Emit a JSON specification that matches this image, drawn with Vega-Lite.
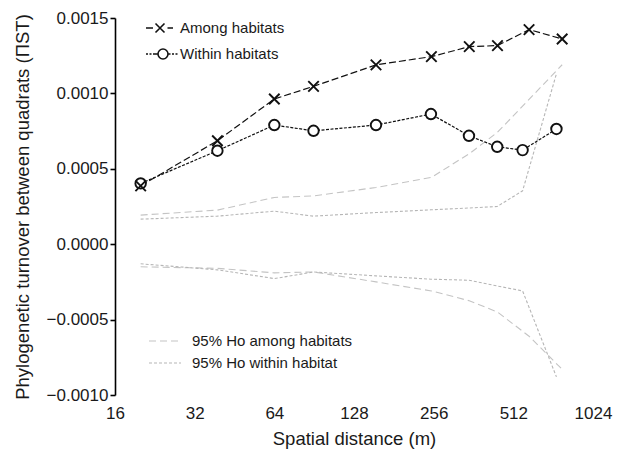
{
  "$schema": "https://vega.github.io/schema/vega-lite/v6.json",
  "width": 478,
  "height": 377,
  "autosize": "none",
  "padding": {"left": 115, "top": 18, "right": 29, "bottom": 58},
  "config": {
    "font": "Liberation Sans",
    "view": {"stroke": null},
    "axis": {"labelColor": "#1a1a1a", "titleColor": "#1a1a1a", "grid": false}
  },
  "datasets": {
    "obs": [
      {"series": "Among habitats", "x": 20, "y": 0.000387},
      {"series": "Among habitats", "x": 39, "y": 0.000686},
      {"series": "Among habitats", "x": 64, "y": 0.000963},
      {"series": "Among habitats", "x": 90, "y": 0.001047},
      {"series": "Among habitats", "x": 155, "y": 0.001189},
      {"series": "Among habitats", "x": 251, "y": 0.001244},
      {"series": "Among habitats", "x": 349, "y": 0.00131},
      {"series": "Among habitats", "x": 446, "y": 0.001317},
      {"series": "Among habitats", "x": 587, "y": 0.001423},
      {"series": "Among habitats", "x": 783, "y": 0.001361},
      {"series": "Within habitats", "x": 20, "y": 0.000403},
      {"series": "Within habitats", "x": 39, "y": 0.00062},
      {"series": "Within habitats", "x": 64, "y": 0.00079},
      {"series": "Within habitats", "x": 90, "y": 0.000752},
      {"series": "Within habitats", "x": 155, "y": 0.00079},
      {"series": "Within habitats", "x": 250, "y": 0.000863},
      {"series": "Within habitats", "x": 348, "y": 0.000719},
      {"series": "Within habitats", "x": 445, "y": 0.000646},
      {"series": "Within habitats", "x": 555, "y": 0.000624},
      {"series": "Within habitats", "x": 745, "y": 0.000764}
    ],
    "nullmodel": [
      {"band": "95% Ho among habitats", "bound": "upper", "x": 20, "y": 0.000193},
      {"band": "95% Ho among habitats", "bound": "upper", "x": 39, "y": 0.000226},
      {"band": "95% Ho among habitats", "bound": "upper", "x": 64, "y": 0.00031},
      {"band": "95% Ho among habitats", "bound": "upper", "x": 90, "y": 0.00032},
      {"band": "95% Ho among habitats", "bound": "upper", "x": 155, "y": 0.000376},
      {"band": "95% Ho among habitats", "bound": "upper", "x": 251, "y": 0.000443},
      {"band": "95% Ho among habitats", "bound": "upper", "x": 349, "y": 0.0006},
      {"band": "95% Ho among habitats", "bound": "upper", "x": 446, "y": 0.000742},
      {"band": "95% Ho among habitats", "bound": "upper", "x": 587, "y": 0.00096},
      {"band": "95% Ho among habitats", "bound": "upper", "x": 783, "y": 0.00119},
      {"band": "95% Ho among habitats", "bound": "lower", "x": 20, "y": -0.00015},
      {"band": "95% Ho among habitats", "bound": "lower", "x": 39, "y": -0.00016},
      {"band": "95% Ho among habitats", "bound": "lower", "x": 64, "y": -0.00019},
      {"band": "95% Ho among habitats", "bound": "lower", "x": 90, "y": -0.000184},
      {"band": "95% Ho among habitats", "bound": "lower", "x": 155, "y": -0.00025},
      {"band": "95% Ho among habitats", "bound": "lower", "x": 251, "y": -0.00031},
      {"band": "95% Ho among habitats", "bound": "lower", "x": 349, "y": -0.000375},
      {"band": "95% Ho among habitats", "bound": "lower", "x": 446, "y": -0.00045},
      {"band": "95% Ho among habitats", "bound": "lower", "x": 587, "y": -0.00061},
      {"band": "95% Ho among habitats", "bound": "lower", "x": 783, "y": -0.00083},
      {"band": "95% Ho within habitat", "bound": "upper", "x": 20, "y": 0.000166},
      {"band": "95% Ho within habitat", "bound": "upper", "x": 39, "y": 0.000186},
      {"band": "95% Ho within habitat", "bound": "upper", "x": 64, "y": 0.000219},
      {"band": "95% Ho within habitat", "bound": "upper", "x": 90, "y": 0.000186},
      {"band": "95% Ho within habitat", "bound": "upper", "x": 155, "y": 0.00021},
      {"band": "95% Ho within habitat", "bound": "upper", "x": 250, "y": 0.000228},
      {"band": "95% Ho within habitat", "bound": "upper", "x": 348, "y": 0.00024},
      {"band": "95% Ho within habitat", "bound": "upper", "x": 445, "y": 0.00025},
      {"band": "95% Ho within habitat", "bound": "upper", "x": 555, "y": 0.000354},
      {"band": "95% Ho within habitat", "bound": "upper", "x": 745, "y": 0.00113},
      {"band": "95% Ho within habitat", "bound": "lower", "x": 20, "y": -0.00013},
      {"band": "95% Ho within habitat", "bound": "lower", "x": 39, "y": -0.00017},
      {"band": "95% Ho within habitat", "bound": "lower", "x": 64, "y": -0.000228},
      {"band": "95% Ho within habitat", "bound": "lower", "x": 90, "y": -0.000184},
      {"band": "95% Ho within habitat", "bound": "lower", "x": 155, "y": -0.00021},
      {"band": "95% Ho within habitat", "bound": "lower", "x": 250, "y": -0.000232},
      {"band": "95% Ho within habitat", "bound": "lower", "x": 348, "y": -0.000239},
      {"band": "95% Ho within habitat", "bound": "lower", "x": 445, "y": -0.000277},
      {"band": "95% Ho within habitat", "bound": "lower", "x": 555, "y": -0.00031},
      {"band": "95% Ho within habitat", "bound": "lower", "x": 745, "y": -0.00088}
    ],
    "ticks": [{"x": 32}, {"x": 64}, {"x": 128}, {"x": 256}, {"x": 512}, {"x": 1024}]
  },
  "encoding": {
    "x": {
      "field": "x",
      "type": "quantitative",
      "scale": {"type": "log", "base": 2, "domain": [16, 1024], "nice": false},
      "axis": {
        "title": "Spatial distance (m)",
        "values": [16, 32, 64, 128, 256, 512, 1024],
        "format": "d",
        "domain": false,
        "ticks": false,
        "labelPadding": 10,
        "labelFontSize": 17,
        "labelFlush": false,
        "labelOverlap": false,
        "titleFontSize": 18.5,
        "titleFontWeight": "normal",
        "titlePadding": 8
      }
    },
    "y": {
      "field": "y",
      "type": "quantitative",
      "scale": {"domain": [-0.001, 0.0015], "nice": false, "zero": false},
      "axis": {
        "title": "Phylogenetic turnover between quadrats (ΠST)",
        "values": [-0.001, -0.0005, 0, 0.0005, 0.001, 0.0015],
        "format": ".4f",
        "domainColor": "black",
        "domainWidth": 1.6,
        "tickColor": "black",
        "tickWidth": 1.6,
        "tickSize": 5,
        "labelPadding": 2,
        "labelFontSize": 17,
        "labelFlush": false,
        "titleFontSize": 18.5,
        "titleFontWeight": "normal",
        "titlePadding": 14
      }
    }
  },
  "layer": [
    {
      "data": {"values": [{}]},
      "mark": {"type": "rule", "color": "black", "strokeWidth": 2},
      "encoding": {
        "x": {"datum": 16, "type": "quantitative"},
        "x2": {"datum": 1024},
        "y": {"datum": 0, "type": "quantitative"}
      }
    },
    {
      "data": {"name": "ticks"},
      "mark": {"type": "rule", "color": "black", "strokeWidth": 1.6},
      "encoding": {
        "y": {"datum": 0, "type": "quantitative"},
        "y2": {"datum": -0.000033}
      }
    },
    {
      "data": {"name": "nullmodel"},
      "transform": [{"filter": "datum.band === '95% Ho among habitats'"}],
      "mark": {"type": "line", "strokeDash": [7, 4], "strokeWidth": 1.1},
      "encoding": {
        "detail": {"field": "bound"},
        "color": {
          "field": "band",
          "type": "nominal",
          "scale": {"domain": ["95% Ho among habitats", "95% Ho within habitat"], "range": ["#c4c4c4", "#b6b6b6"]},
          "legend": {
            "title": null,
            "orient": "none",
            "legendX": 39,
            "legendY": 312,
            "padding": 0,
            "symbolType": "M-1.6,0H1.6",
            "symbolSize": 400,
            "symbolStrokeWidth": 1.1,
            "labelOffset": 16,
            "labelLimit": 400,
            "rowPadding": 3,
            "labelFontSize": 15,
            "labelColor": "#1a1a1a",
            "encode": {"symbols": {"update": {"strokeDash": {"signal": "datum.value === '95% Ho among habitats' ? [7,4] : [3,2]"}}}}
          }
        }
      }
    },
    {
      "data": {"name": "nullmodel"},
      "transform": [{"filter": "datum.band === '95% Ho within habitat'"}],
      "mark": {"type": "line", "strokeDash": [3, 2], "strokeWidth": 1.1},
      "encoding": {
        "detail": {"field": "bound"},
        "color": {
          "field": "band",
          "type": "nominal",
          "scale": {"domain": ["95% Ho among habitats", "95% Ho within habitat"], "range": ["#c4c4c4", "#b6b6b6"]},
          "legend": {
            "title": null,
            "orient": "none",
            "legendX": 39,
            "legendY": 312,
            "padding": 0,
            "symbolType": "M-1.6,0H1.6",
            "symbolSize": 400,
            "symbolStrokeWidth": 1.1,
            "labelOffset": 16,
            "labelLimit": 400,
            "rowPadding": 3,
            "labelFontSize": 15,
            "labelColor": "#1a1a1a",
            "encode": {"symbols": {"update": {"strokeDash": {"signal": "datum.value === '95% Ho among habitats' ? [7,4] : [3,2]"}}}}
          }
        }
      }
    },
    {
      "data": {"name": "obs"},
      "transform": [{"filter": "datum.series === 'Among habitats'"}],
      "mark": {"type": "line", "color": "#111111", "strokeDash": [7, 3], "strokeWidth": 1.2},
      "encoding": {}
    },
    {
      "data": {"name": "obs"},
      "transform": [{"filter": "datum.series === 'Within habitats'"}],
      "mark": {"type": "line", "color": "#111111", "strokeDash": [3, 1.5], "strokeWidth": 1.2},
      "encoding": {}
    },
    {
      "data": {"name": "obs"},
      "transform": [{"filter": "datum.series === 'Within habitats'"}],
      "mark": {"type": "point", "shape": "circle", "filled": true, "fill": "white", "stroke": "#111111", "strokeWidth": 1.9, "size": 110, "opacity": 1},
      "encoding": {}
    },
    {
      "data": {"name": "obs"},
      "transform": [{"filter": "datum.series === 'Among habitats'"}],
      "mark": {"type": "point", "shape": "M-1,-1L1,1M-1,1L1,-1", "filled": true, "fill": "white", "stroke": "#111111", "strokeWidth": 1.9, "size": 110, "opacity": 1},
      "encoding": {}
    },
    {
      "data": {"name": "obs"},
      "mark": {"type": "point", "filled": true, "fill": "white", "stroke": "#111111", "strokeWidth": 1.6, "size": 110, "opacity": 0},
      "encoding": {
        "shape": {
          "field": "series",
          "type": "nominal",
          "scale": {
            "domain": ["Among habitats", "Within habitats"],
            "range": [
              "M-1.4,0H-0.7M-0.45,-0.45L0.45,0.45M-0.45,0.45L0.45,-0.45M0.75,0H1.3",
              "M-1.4,0H-1.2M-1.05,0H-0.85M-0.7,0H-0.25M0.8,0A0.5,0.5 0 1,1 -0.2,0A0.5,0.5 0 1,1 0.8,0M0.85,0H1.05M1.2,0H1.4M1.55,0H1.75"
            ]
          },
          "legend": {
            "title": null,
            "orient": "none",
            "legendX": 34,
            "legendY": -1,
            "padding": 0,
            "symbolSize": 400,
            "symbolOpacity": 1,
            "symbolStrokeWidth": 1.6,
            "symbolFillColor": "white",
            "labelOffset": 9,
            "labelLimit": 400,
            "rowPadding": 7,
            "labelFontSize": 15,
            "labelColor": "#1a1a1a"
          }
        }
      }
    }
  ]
}
